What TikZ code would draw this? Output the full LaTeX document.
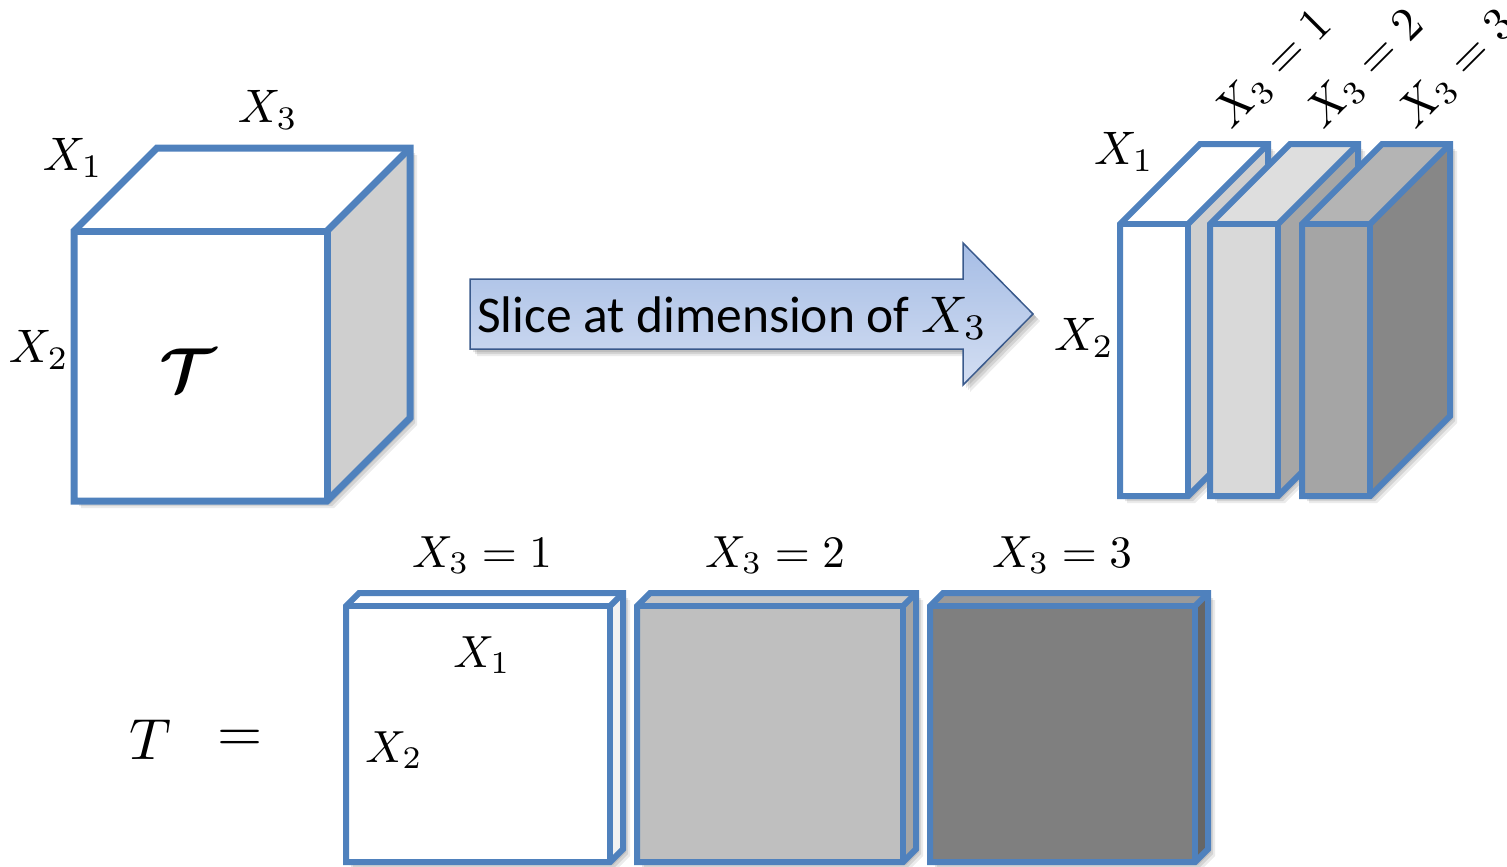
\documentclass[tikz,border=0pt]{standalone}
\usepackage{fontspec}
\usepackage{bm}
\newfontfamily\calibri{Carlito}
\definecolor{bord}{HTML}{4F81BD}
\definecolor{arrowline}{HTML}{3A5A8C}
\definecolor{arrowtop}{HTML}{A6BDE5}
\definecolor{arrowbot}{HTML}{D3DEF2}
\definecolor{gA}{HTML}{CFCFCF}
\definecolor{gB}{HTML}{D9D9D9}
\definecolor{gBt}{HTML}{DEDEDE}
\definecolor{gBs}{HTML}{A6A6A6}
\definecolor{gC}{HTML}{A5A5A5}
\definecolor{gCt}{HTML}{B4B4B4}
\definecolor{gCs}{HTML}{878787}
\definecolor{hB}{HTML}{BFBFBF}
\definecolor{hBt}{HTML}{C8C8C8}
\definecolor{hBs}{HTML}{A5A5A5}
\definecolor{hC}{HTML}{7F7F7F}
\definecolor{hCt}{HTML}{9A9A9A}
\definecolor{hCs}{HTML}{666666}
\definecolor{hAs}{HTML}{F2F2F2}
% #1 left x, #2 top y, #3 width, #4 height, #5 depth, #6 front, #7 top, #8 side
\newcommand{\mybox}[8]{%
  \foreach \s/\o in {3/0.10,5/0.10,7/0.08}{%
    \fill[black,opacity=\o] ({#1+\s},{#2+\s}) -- ++(#5,-#5) -- ++(#3,0) -- ++(0,#4) -- ++(-#5,#5) -- ++(-#3,0) -- cycle;}
  \fill[#7] (#1,#2) -- ++(#5,-#5) -- ++(#3,0) -- ++(-#5,#5) -- cycle;
  \fill[#8] ({#1+#3},#2) -- ++(#5,-#5) -- ++(0,#4) -- ++(-#5,#5) -- cycle;
  \fill[#6] (#1,#2) rectangle ++(#3,#4);
  \draw[edge] (#1,{#2+#4}) -- (#1,#2) -- ++(#5,-#5) -- ++(#3,0) -- ++(0,#4) -- ++(-#5,#5) -- cycle;
  \draw[edge] (#1,#2) -- ++(#3,0) -- ++(0,#4);
  \draw[edge] ({#1+#3},#2) -- ++(#5,-#5);
}
\tikzset{
  edge/.style={draw=bord, line width=7pt, line join=miter},
  lab/.style={font=\normalsize, scale=4.7, inner sep=0pt},
  blab/.style={font=\normalsize, scale=4.5, inner sep=0pt},
}
\begin{document}
\begin{tikzpicture}[x=1pt,y=-1pt]
\useasboundingbox (0,0) rectangle (1507,867);

% big cube
\mybox{74}{231}{253}{270}{83}{white}{white}{gA}
\node[lab] (c1) at (73,158) {$X_1$};
\node[lab] (c3) at (268,110) {$X_3$};
\node[lab] (c2) at (39,350) {$X_2$};
\node[inner sep=0pt, font=\normalsize, scale=6.2] (tt) at (188,370) {$\bm{\mathcal{T}}$};

% arrow
\foreach \s/\o in {3/0.10,5/0.10,7/0.08}{%
  \fill[black,opacity=\o] ({470+\s},{279+\s}) -- ++(493,0) -- ++(0,-36) -- ++(70,71) -- ++(-70,71) -- ++(0,-36) -- ++(-493,0) -- cycle;}
\path[top color=arrowtop, bottom color=arrowbot, draw=arrowline, line width=1.5pt, line join=miter]
  (470,279) -- (963,279) -- (963,243) -- (1033,314) -- (963,385) -- (963,349) -- (470,349) -- cycle;
\node[anchor=west, inner sep=0pt, font=\calibri\normalsize, scale=5.15] (slice) at (476,318) {Slice at dimension of $X_3$};

% sliced cube
\begin{scope}[edge/.style={draw=bord, line width=6pt, line join=miter}]
\mybox{1120}{224}{68}{272}{80}{white}{white}{gA}
\mybox{1210}{224}{68}{272}{80}{gB}{gBt}{gBs}
\mybox{1302}{224}{68}{272}{80}{gC}{gCt}{gCs}
\end{scope}
\node[lab] (s1) at (1124,152) {$X_1$};
\node[lab] (s2) at (1084,338) {$X_2$};
\node[lab, rotate=45] (r1) at (1274,70) {$X_3=1$};
\node[lab, rotate=45] (r2) at (1366,70) {$X_3=2$};
\node[lab, rotate=45] (r3) at (1458,70) {$X_3=3$};

% bottom slices
\begin{scope}[edge/.style={draw=bord, line width=6pt, line join=miter}]
\mybox{346}{606}{264}{256}{13}{white}{white}{hAs}
\mybox{637}{606}{266}{256}{13}{hB}{hBt}{hBs}
\mybox{930}{606}{265}{256}{13}{hC}{hCt}{hCs}
\end{scope}
\node[blab] (b1) at (482,555) {$X_3=1$};
\node[blab] (b2) at (775,555) {$X_3=2$};
\node[blab] (b3) at (1062,555) {$X_3=3$};
\node[blab] (bx1) at (482,655) {$X_1$};
\node[blab] (bx2) at (394,750) {$X_2$};
\node[inner sep=0pt, font=\normalsize, scale=5.8] (T) at (150,740) {$T$};
\node[inner sep=0pt, font=\normalsize, scale=5.8] (eq) at (240,741) {$=$};
\end{tikzpicture}
\end{document}
